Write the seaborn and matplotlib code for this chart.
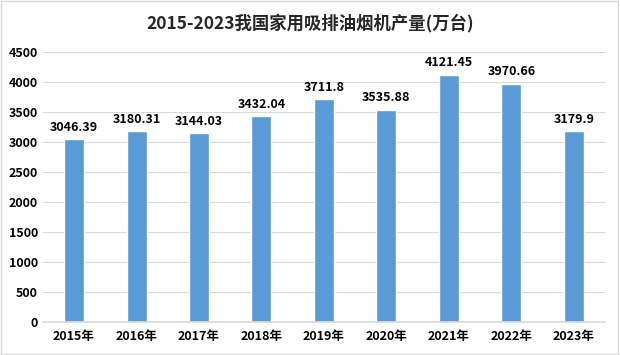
import matplotlib
matplotlib.use("Agg")
import matplotlib.pyplot as plt
import seaborn as sns
import pandas as pd
from matplotlib.patches import Rectangle

years = ["2015年", "2016年", "2017年", "2018年", "2019年", "2020年", "2021年", "2022年", "2023年"]
values = [3046.39, 3180.31, 3144.03, 3432.04, 3711.8, 3535.88, 4121.45, 3970.66, 3179.9]
labels = ["3046.39", "3180.31", "3144.03", "3432.04", "3711.8", "3535.88", "4121.45", "3970.66", "3179.9"]
title = "2015-2023我国家用吸排油烟机产量(万台)"

sns.set_theme(style="white")
plt.rcParams['font.family'] = ['Noto Sans CJK SC', 'DejaVu Sans']

df = pd.DataFrame({"year": years, "value": values})
fig = plt.figure(figsize=(6.2, 3.55), dpi=100)
ax = fig.add_axes([0.069, 0.093, 0.907, 0.761])
sns.barplot(data=df, x="year", y="value", color="#5B9BD5", width=0.32, ax=ax, saturation=1)

ax.set_ylim(0, 4500)
ax.set_yticks(range(0, 4501, 500))
ax.yaxis.grid(True, color="#D9D9D9", linewidth=0.8)
ax.set_axisbelow(True)
for s in ["top", "right", "left"]:
    ax.spines[s].set_visible(False)
ax.spines["bottom"].set_color("#D9D9D9")
ax.set_xlabel("")
ax.set_ylabel("")
ax.tick_params(axis="both", length=0, labelsize=9, colors="#000000")
ax.tick_params(axis="x", pad=6)
for lab in ax.get_xticklabels() + ax.get_yticklabels():
    lab.set_fontweight("bold")

for i, (v, t) in enumerate(zip(values, labels)):
    ax.text(i, v + 90, t, ha="center", va="bottom", fontsize=9, fontweight="bold", color="#000000")

fig.text(0.5, 0.935, title, ha="center", va="center", fontsize=12.5, fontweight="bold")
fig.patches.append(Rectangle((0.002, 0.003), 0.995, 0.993, transform=fig.transFigure,
                             fill=False, edgecolor="#D9D9D9", linewidth=1))
fig.savefig("out.png", dpi=100)
